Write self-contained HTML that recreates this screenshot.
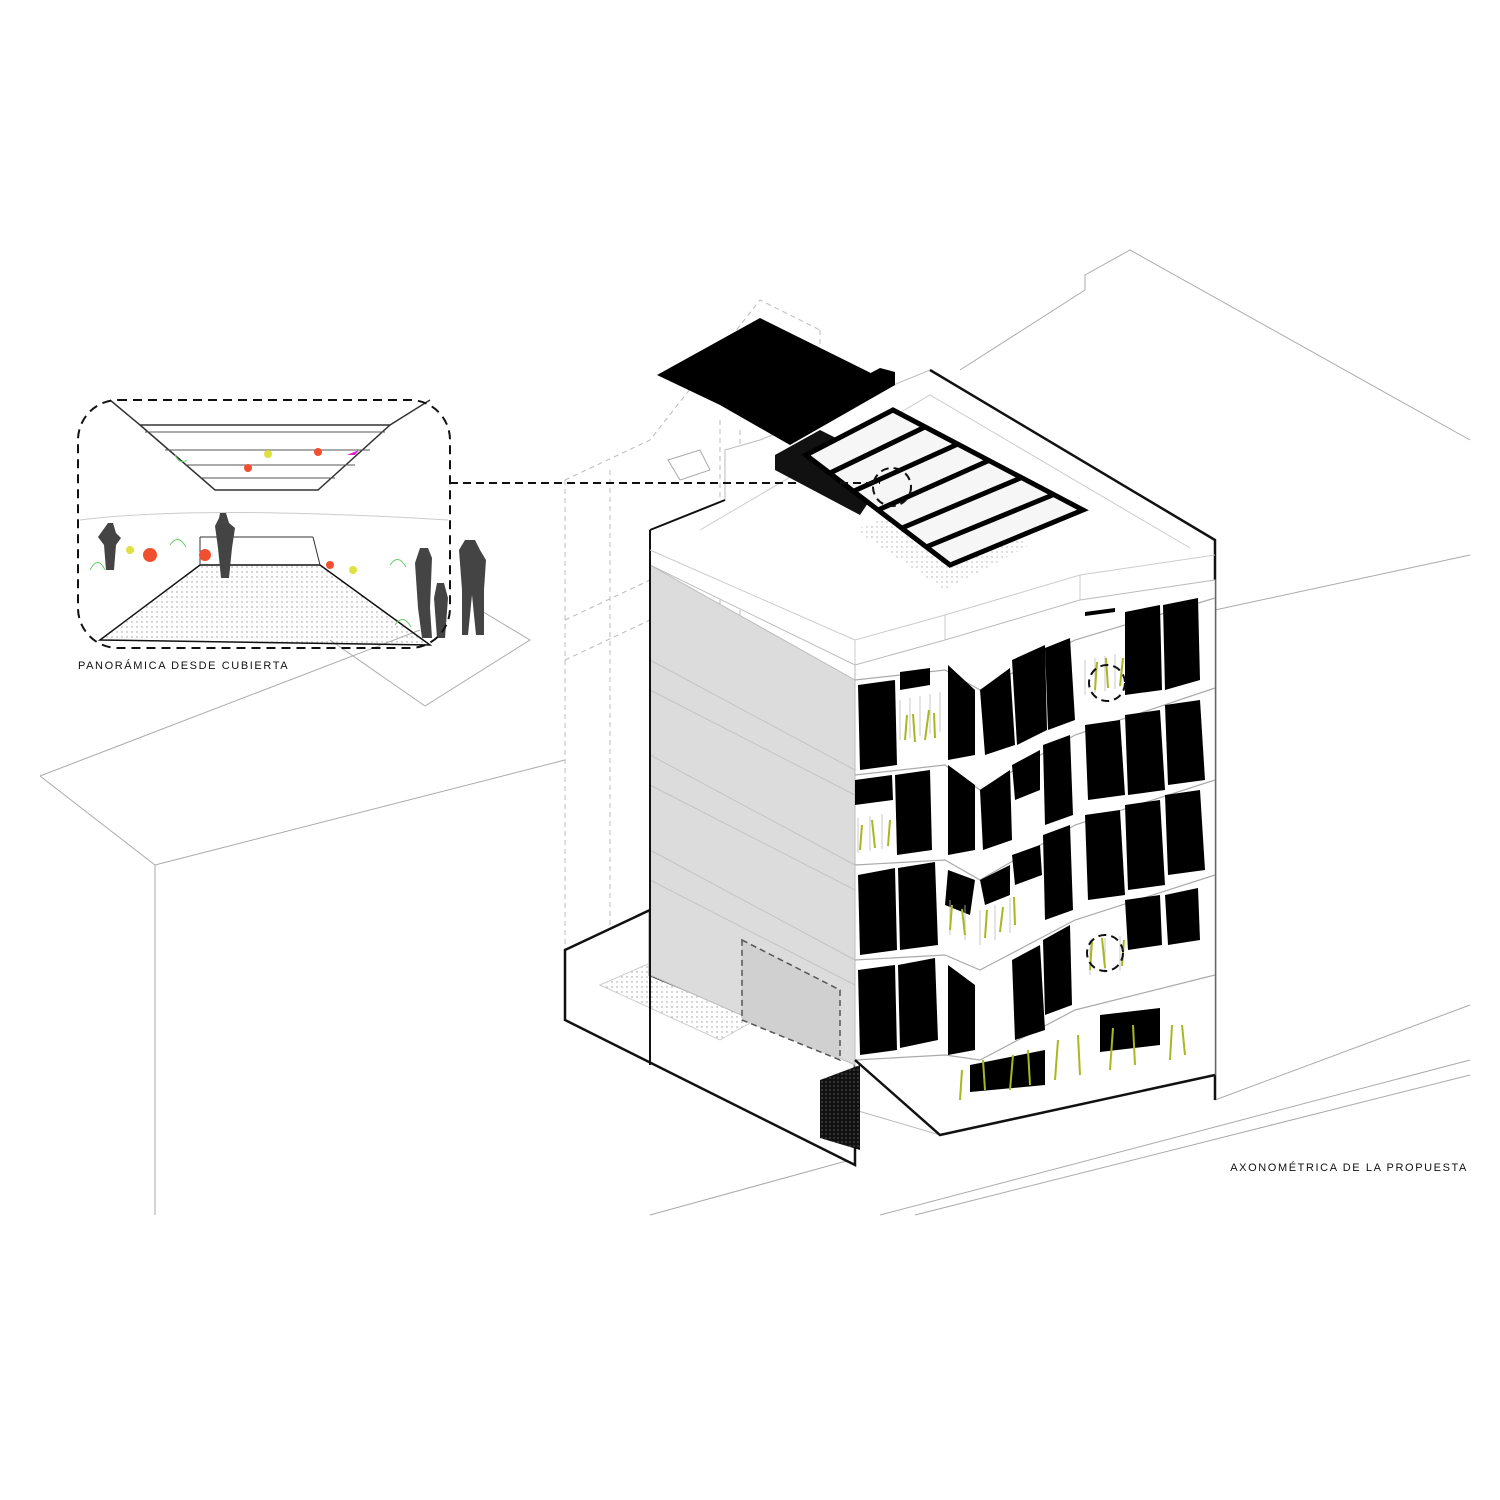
<!DOCTYPE html>
<html><head><meta charset="utf-8"><style>
html,body{margin:0;padding:0;background:#fff}
svg{display:block}
text{font-family:"Liberation Sans",sans-serif;fill:#111;letter-spacing:1.6px;font-size:11px}
</style></head><body>
<svg width="1500" height="1500" viewBox="0 0 1500 1500" xmlns="http://www.w3.org/2000/svg">
<defs>
<pattern id="dots" width="5" height="5" patternUnits="userSpaceOnUse"><circle cx="2" cy="2" r="0.7" fill="#999"/></pattern>
<pattern id="dotsd" width="4" height="4" patternUnits="userSpaceOnUse"><rect width="4" height="4" fill="#111"/><circle cx="2" cy="2" r="0.7" fill="#666"/></pattern>
</defs>
<g stroke="#aaa" stroke-width="1" fill="none">
<polyline points="40,776 420,630"/>
<polyline points="40,776 155,865 155,1215"/>
<polyline points="155,865 565,760"/>
<polyline points="425,706 530,640 480,610"/>
<polyline points="425,706 330,640"/>
<polyline points="960,370 1085,290 1085,275 1130,250 1470,440"/>
<polyline points="1215,610 1470,555"/>
<polyline points="650,1215 850,1160"/>
<polyline points="880,1215 1470,1060"/>
<polyline points="915,1215 1470,1075"/>
<polyline points="1215,1100 1470,1005"/>
</g>
<g stroke="#bbb" stroke-width="1" fill="none" stroke-dasharray="5,4">
<polyline points="565,480 650,440 760,300 820,330"/>
<polyline points="565,480 565,950"/>
<polyline points="610,470 610,940"/>
<polyline points="720,420 720,1000"/>
<polyline points="740,430 740,1010"/>
<polyline points="820,330 820,460"/>
<polyline points="565,620 650,580"/>
<polyline points="565,660 650,620"/>
</g>
<polygon points="565,950 650,910 650,975 855,1060 855,1165 565,1020" fill="#fff" stroke="#111" stroke-width="2.5"/>
<polygon points="600,985 680,950 790,1000 720,1040" fill="url(#dots)" stroke="#ccc"/>
<polygon points="650,565 855,680 855,1065 650,975" fill="#dcdcdc" stroke="#bbb"/>
<g stroke="#c4c4c4" stroke-width="1">
<line x1="650" y1="660" x2="855" y2="770"/><line x1="650" y1="755" x2="855" y2="865"/><line x1="650" y1="850" x2="855" y2="960"/>
<line x1="650" y1="690" x2="855" y2="795"/><line x1="650" y1="785" x2="855" y2="890"/><line x1="650" y1="880" x2="855" y2="985"/>
</g>
<polygon points="742,940 840,990 840,1060 742,1020" fill="#d0d0d0" stroke="#555" stroke-dasharray="6,4" stroke-width="1.5"/>
<polygon points="650,530 725,500 725,450 760,440 930,370 1215,540 1215,600 855,665 650,565" fill="#fff" stroke="#bbb"/>
<polyline points="650,530 650,1065" stroke="#111" stroke-width="2" fill="none"/>
<polyline points="650,530 725,500" stroke="#111" stroke-width="2" fill="none"/>
<polyline points="930,370 1215,540 1215,1100" stroke="#111" stroke-width="2.5" fill="none"/>
<polygon points="855,530 940,495 1030,545 945,590" fill="url(#dots)" opacity=".8"/>
<g stroke="#ccc" fill="none">
<polyline points="650,550 855,640 945,615 1080,575 1215,555"/>
<polyline points="855,640 855,665"/><polyline points="945,615 945,640"/><polyline points="1080,575 1080,600"/>
<polyline points="700,530 930,395 1190,548"/>
</g>
<polygon points="855,665 945,640 1080,600 1215,580 1215,1075 940,1135 855,1110" fill="#fff" stroke="#bbb"/>
<g stroke="#aaa" stroke-width="1.2" fill="none">
<polyline points="855,680 945,670 980,690 1075,640 1215,598"/>
<polyline points="855,775 945,765 980,790 1075,735 1215,688"/>
<polyline points="855,865 945,860 980,880 1075,825 1215,780"/>
<polyline points="855,960 945,955 980,970 1075,920 1215,875"/>
<polyline points="855,1060 945,1055 980,1060 1075,1010 1215,975"/>
<polyline points="855,1060 940,1135 1215,1075" stroke="#111" stroke-width="2.5"/>
</g>
<g fill="#000">
<polygon points="858,685 895,680 897,765 860,770"/><polygon points="900,672 930,668 930,685 900,690"/>
<polygon points="948,665 975,690 975,755 948,760"/><polygon points="980,690 1010,668 1015,745 985,755"/>
<polygon points="1012,660 1045,645 1047,730 1017,745"/><polygon points="1045,648 1070,638 1075,720 1048,730"/>
<polygon points="1125,612 1160,605 1162,690 1125,695"/><polygon points="1163,605 1198,598 1200,680 1165,690"/>
<polygon points="855,780 892,775 893,800 855,805"/><polygon points="895,775 930,770 932,850 897,855"/>
<polygon points="948,765 975,785 975,850 948,855"/><polygon points="980,790 1010,770 1012,840 983,850"/>
<polygon points="1012,765 1040,750 1040,790 1015,800"/><polygon points="1043,745 1070,735 1073,815 1045,825"/>
<polygon points="1085,725 1120,720 1125,795 1088,800"/><polygon points="1125,715 1160,710 1165,790 1128,795"/>
<polygon points="1165,705 1200,700 1205,780 1168,785"/>
<polygon points="858,875 895,868 897,950 860,955"/><polygon points="898,868 935,862 938,945 900,950"/>
<polygon points="948,870 975,880 970,915 945,905"/><polygon points="980,880 1010,865 1010,895 985,905"/>
<polygon points="1012,855 1040,845 1042,875 1015,885"/><polygon points="1043,835 1070,825 1073,910 1045,920"/>
<polygon points="1085,815 1120,810 1125,895 1088,900"/><polygon points="1125,805 1160,800 1165,885 1128,890"/>
<polygon points="1165,795 1200,790 1205,870 1168,875"/>
<polygon points="858,970 895,965 897,1050 860,1055"/><polygon points="898,965 935,958 938,1040 900,1048"/>
<polygon points="948,965 975,985 975,1050 948,1055"/><polygon points="1012,960 1040,945 1045,1030 1015,1040"/>
<polygon points="1043,940 1070,925 1072,1005 1045,1015"/>
<polygon points="1125,900 1160,895 1162,945 1128,950"/><polygon points="1165,895 1198,888 1200,940 1168,945"/>
<polygon points="970,1065 1045,1050 1045,1085 970,1092"/><polygon points="1100,1015 1160,1008 1160,1045 1100,1052"/>
<polygon points="1085,612 1115,608 1115,612 1085,616"/>
</g>
<g stroke="#bbb" stroke-width="0.8">
<path d="M900,700 v40 M910,698 v40 M920,696 v40 M930,694 v40 M940,692 v40 M1085,660 v35 M1095,658 v35 M1105,656 v35 M1115,654 v35 M858,818 v35 M870,816 v35 M882,814 v35 M950,900 v35 M965,905 v35 M980,910 v35 M995,905 v35 M1010,898 v35 M1090,940 v35 M1105,938 v35 M1120,936 v35"/>
</g>
<g stroke="#a8b820" stroke-width="2" fill="none">
<path d="M905,740 l2,-25 M915,742 l-2,-28 M925,740 l4,-30 M935,738 l-1,-25 M1095,690 l2,-28 M1108,688 l-2,-30 M1120,686 l3,-28 M860,850 l2,-25 M875,848 l-3,-28 M888,846 l2,-26 M950,930 l2,-25 M965,935 l-3,-26 M985,938 l2,-28 M1000,932 l3,-25 M1015,925 l-1,-28 M1090,970 l2,-28 M1105,968 l-3,-30 M1122,966 l2,-26 M960,1100 l2,-30 M985,1090 l-2,-30 M1010,1090 l3,-35 M1030,1085 l-2,-35 M1055,1080 l3,-40 M1080,1075 l-2,-40 M1110,1070 l3,-42 M1135,1065 l-2,-40 M1170,1060 l2,-35 M1185,1055 l-3,-30"/>
</g>
<polygon points="657,375 760,318 895,385 790,445 720,405" fill="#000"/>
<polygon points="820,400 880,368 895,372 895,385 820,425" fill="#000"/>
<polygon points="775,455 820,430 870,455 870,500 860,515 775,470" fill="#111"/>
<polygon points="668,460 700,450 710,470 680,480" fill="#fff" stroke="#aaa"/>
<g stroke="#000" stroke-width="5" fill="none">
<polygon points="806,455 893,410 1083,510 950,565" fill="#f6f6f6"/>
<line x1="830" y1="473" x2="925" y2="427"/>
<line x1="854" y1="491" x2="958" y2="444"/>
<line x1="878" y1="510" x2="990" y2="460"/>
<line x1="902" y1="528" x2="1023" y2="477"/>
<line x1="926" y1="547" x2="1055" y2="494"/>
</g>
<g stroke="#111" stroke-width="2" fill="none" stroke-dasharray="8,5">
<polyline points="450,483 880,483"/>
<circle cx="892" cy="487" r="19"/>
<circle cx="1107" cy="683" r="18"/>
<circle cx="1105" cy="953" r="18"/>
</g>
<polygon points="820,1080 860,1065 860,1150 820,1138" fill="url(#dotsd)"/>
<g>
<path d="M100,640 L200,565 L320,565 L430,645 Z" fill="url(#dots)" stroke="#111" stroke-width="1.5"/>
<path d="M110,400 L140,425 L390,425 L430,400" stroke="#333" fill="none" stroke-width="1.5"/>
<path d="M140,425 L215,490 L318,490 L390,425" stroke="#333" fill="none" stroke-width="1.5"/>
<g stroke="#555" stroke-width="1"><line x1="145" y1="432" x2="385" y2="432"/><line x1="165" y1="450" x2="370" y2="450"/><line x1="185" y1="465" x2="355" y2="465"/><line x1="200" y1="478" x2="335" y2="478"/></g>
<path d="M80,520 Q200,505 448,520" stroke="#ccc" fill="none"/>
<line x1="200" y1="537" x2="200" y2="565" stroke="#333"/><line x1="313" y1="537" x2="320" y2="565" stroke="#333"/>
<line x1="200" y1="537" x2="313" y2="537" stroke="#333"/>
<g fill="#444">
<path d="M108,523 l5,0 l3,10 l5,5 l-5,7 l-2,25 l-8,0 l-2,-25 l-6,-8 z"/>
<path d="M220,513 l6,0 l3,10 l6,5 l-3,20 l-3,30 l-8,0 l-3,-30 l-3,-22 l4,-8 z"/>
<path d="M420,548 l8,0 l4,10 l-2,50 l2,30 l-10,0 l-4,-30 l-3,-45 z"/>
<path d="M437,583 l7,0 l4,15 l-3,40 l-8,0 l-3,-40 z"/>
<path d="M465,540 l10,0 l5,10 l6,10 l-2,30 l0,45 l-8,0 l-4,-40 l-4,40 l-6,0 l0,-45 l-3,-40 z"/>
</g>
<g fill="#f05030"><circle cx="150" cy="555" r="7"/><circle cx="205" cy="555" r="6"/><circle cx="318" cy="452" r="4"/><circle cx="248" cy="468" r="4"/><circle cx="330" cy="565" r="4"/></g>
<g fill="#e0e040"><circle cx="130" cy="550" r="4"/><circle cx="268" cy="454" r="4"/><circle cx="353" cy="570" r="4"/></g>
<path d="M347,455 l12,-5 l-4,5 z" fill="#e020d0"/>
<g stroke="#6c6" fill="none"><path d="M90,570 q8,-15 15,0 M170,545 q8,-12 16,2 M390,565 q8,-12 16,2 M395,625 q8,-12 16,2 M175,455 q5,10 12,5"/></g>
<rect x="78" y="400" width="372" height="248" rx="40" fill="none" stroke="#111" stroke-width="2" stroke-dasharray="9,6"/>
</g>
<text x="78" y="669">PANORÁMICA DESDE CUBIERTA</text>
<text x="1468" y="1171" text-anchor="end">AXONOMÉTRICA DE LA PROPUESTA</text>
</svg>
</body></html>
